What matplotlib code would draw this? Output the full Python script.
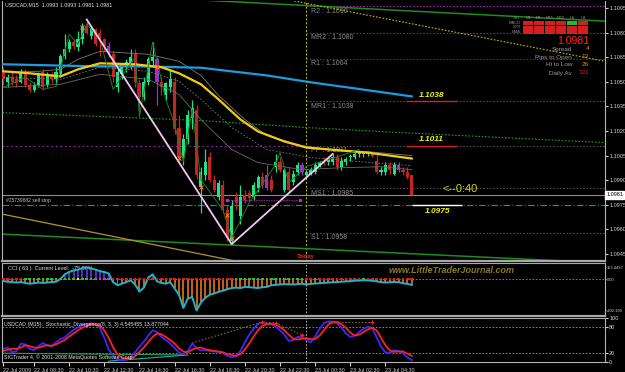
import numpy as np
import matplotlib
matplotlib.use('Agg')
import matplotlib.pyplot as plt
from matplotlib.patches import Rectangle

plt.rcParams['font.family'] = ['Liberation Sans', 'DejaVu Sans']

# USDCAD M15 candles, 22 Jul 06:45 .. 23 Jul 06:00
bar_open = [1.1056, 1.1050, 1.1053, 1.1052, 1.1050, 1.1056, 1.1048, 1.1045, 1.1048, 1.1056,
            1.1048, 1.1055, 1.1052, 1.1055, 1.1066, 1.1070, 1.1074, 1.1071, 1.1076, 1.1084,
            1.1078, 1.1082, 1.1080, 1.1076, 1.1072, 1.1067, 1.1047, 1.1055, 1.1059, 1.1060,
            1.1067, 1.1049, 1.1041, 1.1050, 1.1063, 1.1064, 1.1050, 1.1042, 1.1047, 1.1050,
            1.1022, 1.1004, 1.1015, 1.1028, 1.1033, 1.0986, 1.0993, 1.1004, 1.0990, 1.0980,
            1.0987, 1.0972, 1.0953, 1.0980, 1.0968, 1.0981, 1.0982, 1.0980, 1.0985, 1.0992,
            1.0993, 1.0990, 1.0998, 1.1001, 1.0984, 1.0995, 1.0989, 1.0995, 1.0999, 1.0993,
            1.0994, 1.0995, 1.0999, 1.1002, 1.1001, 1.1001, 1.1004, 1.0998, 1.1001, 1.1004,
            1.1004, 1.1006, 1.1006, 1.1006, 1.1006, 1.1002, 1.0995, 1.0995, 1.0999, 1.0994,
            1.0999, 1.0996, 1.0995, 1.0993]
bar_high = [1.1059, 1.1055, 1.1056, 1.1054, 1.1058, 1.1058, 1.1050, 1.1050, 1.1056, 1.1058,
            1.1056, 1.1056, 1.1059, 1.1067, 1.1079, 1.1076, 1.1076, 1.1081, 1.1086, 1.1088,
            1.1084, 1.1083, 1.1082, 1.1077, 1.1074, 1.1069, 1.1058, 1.1061, 1.1064, 1.1070,
            1.1070, 1.1052, 1.1053, 1.1065, 1.1074, 1.1065, 1.1053, 1.1050, 1.1058, 1.1053,
            1.1030, 1.1018, 1.1033, 1.1039, 1.1036, 1.0998, 1.1009, 1.1007, 1.0993, 1.0990,
            1.0990, 1.0975, 1.0978, 1.0983, 1.0987, 1.0984, 1.0984, 1.0989, 1.0993, 1.0995,
            1.0999, 1.0993, 1.1006, 1.1004, 1.0998, 1.0998, 1.0996, 1.1001, 1.1001, 1.0996,
            1.0998, 1.1001, 1.1002, 1.1004, 1.1004, 1.1006, 1.1006, 1.1004, 1.1004, 1.1006,
            1.1007, 1.1007, 1.1007, 1.1007, 1.1007, 1.1006, 1.0998, 1.1001, 1.1001, 1.1001,
            1.1001, 1.0998, 1.0998, 1.0993]
bar_low = [1.1048, 1.1047, 1.1048, 1.1047, 1.1049, 1.1047, 1.1044, 1.1044, 1.1047, 1.1045,
           1.1047, 1.1049, 1.1048, 1.1053, 1.1064, 1.1068, 1.1070, 1.1069, 1.1073, 1.1079,
           1.1076, 1.1072, 1.1066, 1.1069, 1.1065, 1.1050, 1.1044, 1.1052, 1.1056, 1.1058,
           1.1047, 1.1029, 1.1039, 1.1048, 1.1060, 1.1036, 1.1042, 1.1039, 1.1044, 1.1018,
           1.1001, 1.0999, 1.1012, 1.1021, 1.0991, 1.0970, 1.0990, 1.0989, 1.0983, 1.0978,
           1.0970, 1.0953, 1.0951, 1.0972, 1.0963, 1.0976, 1.0977, 1.0978, 1.0983, 1.0985,
           1.0984, 1.0983, 1.0995, 1.0995, 1.0983, 1.0983, 1.0987, 1.0993, 1.0993, 1.0992,
           1.0993, 1.0994, 1.0998, 1.0999, 1.0999, 1.0999, 1.0996, 1.0996, 1.0999, 1.1002,
           1.1003, 1.1004, 1.1004, 1.1005, 1.1004, 1.0994, 1.0993, 1.0993, 1.0994, 1.0993,
           1.0995, 1.0993, 1.0991, 1.0981]
bar_close = [1.1052, 1.1053, 1.1050, 1.1049, 1.1056, 1.1048, 1.1045, 1.1048, 1.1054, 1.1047,
             1.1055, 1.1052, 1.1056, 1.1066, 1.1070, 1.1074, 1.1072, 1.1076, 1.1084, 1.1080,
             1.1083, 1.1073, 1.1076, 1.1072, 1.1068, 1.1053, 1.1056, 1.1060, 1.1062, 1.1065,
             1.1050, 1.1041, 1.1050, 1.1064, 1.1065, 1.1050, 1.1047, 1.1049, 1.1052, 1.1021,
             1.1004, 1.1015, 1.1030, 1.1034, 1.0993, 1.0995, 1.1001, 1.0990, 1.0984, 1.0988,
             1.0972, 1.0955, 1.0974, 1.0976, 1.0980, 1.0978, 1.0979, 1.0987, 1.0992, 1.0987,
             1.0985, 1.0984, 1.1001, 1.0996, 1.0996, 1.0984, 1.0994, 1.0999, 1.0995, 1.0995,
             1.0996, 1.0999, 1.1001, 1.1001, 1.1003, 1.1004, 1.0998, 1.1002, 1.1003, 1.1005,
             1.1006, 1.1006, 1.1006, 1.1006, 1.1005, 1.0995, 1.0996, 1.0999, 1.0996, 1.0999,
             1.0996, 1.0995, 1.0992, 1.0981]
purple_bars = [24, 35, 60, 68, 90]

# moving averages read at a few bars
ma_blue_bars = [0, 10, 20, 30, 40, 45, 50, 60, 70, 80, 93]
ma_blue = [1.10607, 1.10601, 1.10595, 1.10595, 1.10589, 1.10586, 1.10570, 1.10539, 1.10497, 1.10460, 1.10411]
ma_yellow_bars = [0, 6, 13, 17, 22, 30, 36, 40, 45, 49, 54, 58, 64, 69, 77, 83, 93]
ma_yellow = [1.10564, 1.10552, 1.10533, 1.10576, 1.10613, 1.10607, 1.10589, 1.10552, 1.10485,
             1.10393, 1.10270, 1.10197, 1.10136, 1.10099, 1.10081, 1.10068, 1.10032]
env_up_bars = [0, 8, 13, 17, 22, 33, 40, 45, 49, 55, 60, 68, 74, 83, 93]
env_up = [1.10564, 1.10564, 1.10576, 1.10637, 1.10686, 1.10668, 1.10625, 1.10539, 1.10417,
          1.10270, 1.10172, 1.10111, 1.10087, 1.10074, 1.10050]
env_mid_bars = [0, 13, 22, 33, 40, 45, 52, 60, 70, 81, 93]
env_mid = [1.10527, 1.10515, 1.10589, 1.10564, 1.10503, 1.10393, 1.10221, 1.10087, 1.10038, 1.10013, 1.09989]
env_low_bars = [0, 13, 22, 33, 40, 45, 52, 58, 68, 77, 86, 93]
env_low = [1.10466, 1.10485, 1.10546, 1.10515, 1.10423, 1.10270, 1.10087, 1.10007, 1.09964,
           1.09976, 1.09982, 1.09964]
swing_bars = [0, 5, 9, 12, 15, 17, 19, 22, 25, 30, 31, 34, 37, 39, 41, 43, 45, 50, 52, 56, 62, 63, 65, 69, 79, 81]
swing = [1.10466, 1.10527, 1.10454, 1.10472, 1.10791, 1.10730, 1.10852, 1.10760, 1.10454, 1.10650,
         1.10289, 1.10742, 1.10393, 1.10240, 1.10013, 1.10331, 1.09903, 1.09719, 1.09548, 1.09762,
         1.09995, 1.10069, 1.09885, 1.09983, 1.10069, 1.10087]
zig_bars = [19, 52, 75]
zig = [1.1088, 1.0951, 1.1006]
fractal_bars = [18, 35, 40, 45, 51, 52]
fractal = [1.10833, 1.10589, 1.10038, 1.09860, 1.09689, 1.09548]

# trend lines
chan_bars = [-1, 45, 69, 90, 137]
chan = [1.10313, 1.10264, 1.10221, 1.10191, 1.10129]
top_green_bars = [30, 137]
top_green = [1.11020, 1.10870]
top_yellow_bars = [64, 137]
top_yellow = [1.11005, 1.10625]
low_yellow_bars = [-1, 60]
low_yellow = [1.09697, 1.09368]
low_green_bars = [-1, 137]
low_green = [1.09572, 1.09395]

# daily pivots
pivot_names = ['R2', 'MR2', 'R1', 'MR1', 'PP', 'MS1', 'S1']
pivot_values = [1.1096, 1.1080, 1.1064, 1.1038, 1.1011, 1.0985, 1.0958]
pivot_colors = ['#a020b0', '#4a4a4a', '#7a2a14', '#4a4a4a', '#4a4a4a', '#4a4a4a', '#1e6e1e']
last_price = 1.0981
sell_stop = 1.0975
targets = [1.1038, 1.1011]
target_low = 1.0975
day_start = 69

# CCI(63)
cci = [-25, -35, -40, -45, -40, -50, -60, -55, -45, -50, -45, -40, -35, 0, 60, 90, 110, 120, 140, 150,
       135, 120, 100, 90, 70, -40, -80, -60, -40, -15, -70, -160, -110, 20, 60, -30, -50, -60, -40, -120,
       -200, -370, -250, -230, -402, -300, -240, -200, -185, -165, -150, -130, -115, -110, -115, -100, -105,
       -110, -115, -105, -100, -80, -75, -70, -65, -68, -70, -65, -60, -70, -62, -58, -55, -50, -45, -42,
       -38, -35, -30, -28, -22, -20, -15, -18, -22, -30, -40, -45, -42, -38, -40, -55, -62, -75.86]
cci_marks = 'rrrrrggggggggggggyggg' + 'mmmmrrrrrrrrrrrrrrrrrrrrrrrrrrrr' + 'ggggggggggggggggrrgrrrrrrrrrrgrrrrrrrrrrr'

# Stochastic(8,3,3)
stoch_k = [30, 33, 22, 25, 42, 40, 30, 27, 36, 43, 38, 35, 45, 52, 56, 65, 73, 79, 84, 86,
           88, 86, 77, 55, 28, 15, 5, 4, 5, 12, 22, 35, 46, 60, 72, 68, 57, 50, 42, 32,
           21, 18, 25, 42, 32, 26, 27, 25, 24, 23, 20, 14, 11, 13, 25, 45, 62, 76, 86, 90,
           87, 86, 80, 72, 62, 48, 50, 57, 57, 50, 45, 58, 75, 88, 92, 92, 88, 78, 65, 57,
           60, 68, 75, 80, 78, 56, 35, 22, 20, 27, 25, 20, 10, 4.545]
stoch_d = [25, 28, 30, 30, 33, 38, 36, 33, 32, 36, 38, 37, 40, 45, 50, 58, 65, 72, 78, 82,
           85, 85, 82, 72, 55, 33, 18, 10, 8, 8, 13, 23, 33, 45, 57, 65, 63, 57, 50, 42,
           31, 24, 22, 28, 32, 33, 29, 27, 25, 24, 22, 18, 16, 14, 18, 28, 42, 58, 72, 82,
           86, 87, 85, 80, 72, 62, 53, 51, 53, 54, 52, 52, 60, 72, 85, 90, 91, 86, 78, 67,
           60, 62, 68, 74, 78, 72, 55, 38, 26, 23, 24, 24, 19, 13.877]
div_green_bars, div_green = [0, 41], [20, 16]
div_cyan_bars, div_cyan = [24, 42], [2, 16]
div_brown_bars, div_brown = [43, 59, 62, 68], [43, 91, 89, 61]
div_brown2_bars, div_brown2 = [74, 84], [91, 91]
stoch_peaks_bars, stoch_peaks = [59, 62, 68, 84], [91, 89, 61, 91]

time_ticks = [0, 7, 15, 23, 31, 39, 47, 55, 63, 71, 79, 87]
time_labels = ['22 Jul 2009', '22 Jul 08:30', '22 Jul 10:30', '22 Jul 12:30', '22 Jul 14:30',
               '22 Jul 16:30', '22 Jul 18:30', '22 Jul 20:30', '22 Jul 22:30', '23 Jul 00:30',
               '23 Jul 02:30', '23 Jul 04:30']

# info box
tf_names = ['M1', 'M5', 'M15', 'M30', 'H1', 'H4']
sig_names = ['MACD', 'STR', 'EMA']
sig_state = [['r', 'r', 'r', 'r', 'g', 'r'],
             ['r', 'r', 'r', 'r', 'r', 'r'],
             ['r', 'r', 'r', 'r', 'r', 'r']]
info_names = ['Spread', 'Pips to Open', 'Hi to Low', 'Daily Av']
info_values = ['4', '13', '26', '131']
info_colors = ['#e08a1e', '#e08a1e', '#e08a1e', '#e02020']

W, H = 625.0, 372.0
fig = plt.figure(figsize=(W / 100, H / 100), dpi=100, facecolor='black')


def px_axes(x0, y0, x1, y1):
    a = fig.add_axes([x0 / W, 1 - y1 / H, (x1 - x0) / W, (y1 - y0) / H])
    a.set_facecolor('black')
    a.set_xlim(-0.3, 137)
    for s in a.spines.values():
        s.set_color('#b4b4b4')
        s.set_linewidth(0.8)
    a.spines['top'].set_visible(False)
    a.tick_params(axis='y', colors='#d0d0d0', labelsize=4, length=2, pad=1,
                  left=False, right=True, labelleft=False, labelright=True)
    a.tick_params(axis='x', bottom=False, labelbottom=False)
    return a


ax = px_axes(2, 1, 605, 261)
ax_cci = px_axes(2, 263, 605, 316)
ax_st = px_axes(2, 318, 605, 362)
for a in (ax, ax_cci):
    a.spines['bottom'].set_linewidth(1.6)
    a.spines['bottom'].set_color('#a8a8a8')
ax_cci.spines['top'].set_visible(True)
ax_cci.spines['top'].set_color('#a8a8a8')
ax_st.spines['top'].set_visible(True)
ax_st.spines['top'].set_color('#a8a8a8')

# ---- main chart
ax.set_ylim(1.09407, 1.10993)
ax.set_yticks(np.arange(1.0945, 1.10951, 0.0015))
ax.yaxis.set_major_formatter(plt.FormatStrFormatter('%.4f'))

x = np.arange(len(bar_close))
o = np.array(bar_open)
c = np.array(bar_close)
hi = np.array(bar_high)
lo = np.array(bar_low)
cols = np.where(c >= o, '#18e68a', '#c82323').astype(object)
cols[purple_bars] = '#9b30d0'
ax.vlines(x, lo, hi, colors=list(cols), lw=0.9, zorder=3)
ax.bar(x, np.maximum(np.abs(c - o), 0.00005), bottom=np.minimum(o, c), width=0.7,
       color=list(cols), lw=0, zorder=3)

ax.plot(low_green_bars, low_green, color='#1e8c1e', lw=1.1, zorder=2)
ax.plot(low_yellow_bars, low_yellow, color='#b49628', lw=0.9, zorder=2)
ax.plot(top_green_bars, top_green, color='#1e8c1e', lw=1.1, zorder=2)
ax.plot(top_yellow_bars, top_yellow, color='#c8b400', lw=0.8, ls=(0, (1.5, 1.5)), zorder=2)
ax.plot(chan_bars, chan, color='#1fa01f', lw=0.8, ls=(0, (1.5, 1.5)), zorder=2)

ax.plot(env_up_bars, env_up, color='#7a7a7a', lw=0.6, zorder=4)
ax.plot(env_mid_bars, env_mid, color='#7a7a7a', lw=0.6, ls=(0, (2, 2)), zorder=4)
ax.plot(env_low_bars, env_low, color='#6a6a6a', lw=0.6, zorder=4)
ax.plot(ma_blue_bars, ma_blue, color='#1c9be0', lw=1.6, zorder=4)
ax.plot(ma_yellow_bars, ma_yellow, color='#f0cc10', lw=1.6, zorder=4)
ax.plot(swing_bars, swing, color='#1f7a1f', lw=0.7, zorder=4)
ax.plot(zig_bars, zig, color='#f0c8f0', lw=1.3, zorder=5)
ax.plot(fractal_bars, fractal, 'x', color='#ff7a20', ms=2.5, mew=0.7, zorder=5)

# pivot levels for the current day
for name, val, col in zip(pivot_names, pivot_values, pivot_colors):
    ax.hlines(val, day_start, 137, colors=col, lw=0.8, linestyles=(0, (1.5, 1.5)), zorder=1)
    ax.text(day_start + 1, val - 0.00008, '%s : %.4f' % (name, val), color='#8a8a8a',
            fontsize=5, va='top', ha='left', zorder=1)
ax.hlines(pivot_values[4], -0.3, day_start, colors='#a020b0', lw=0.8,
          linestyles=(0, (1.5, 2.5)), zorder=1)
ax.plot([51, 67.5], [1.0978, 1.0978], color='#e020d0', lw=0.6, ls=(0, (1, 1)),
        marker='x', ms=1.8, markevery=1, zorder=5)
ax.axhline(last_price, color='#8c8c8c', lw=0.8, zorder=1)
ax.axhline(sell_stop, color='#2e9a2e', lw=0.8, ls=(0, (6, 2, 1, 2)), zorder=1)
ax.text(0.5, sell_stop + 0.00012, '#25739882 sell stop', color='#bcbcbc', fontsize=3.6,
        va='bottom', ha='left')
ax.axvline(day_start, color='#c8c800', lw=0.7, ls=(0, (2, 2)), zorder=1)
ax.text(day_start, 1.09417, 'Today', color='#ff2020', fontsize=4.5, fontweight='bold',
        ha='center', va='bottom')

for t in targets:
    ax.hlines(t, 91.7, 103.4, colors='#d02020', lw=1.0, zorder=5)
    ax.annotate('%.4f' % t, (97.5, t), xytext=(0, 2), textcoords='offset points',
                color='#f0f000', fontsize=6, fontweight='bold', style='italic',
                ha='center', va='bottom')
ax.hlines(target_low, 93, 104.5, colors='#ffffff', lw=1.0, zorder=5)
ax.annotate('%.4f' % target_low, (98.8, target_low), xytext=(0, -2), textcoords='offset points',
            color='#f0f000', fontsize=6, fontweight='bold', style='italic', ha='center', va='top')
ax.annotate('<--0:40', (100, last_price), xytext=(0, 1), textcoords='offset points',
            color='#d8d800', fontsize=8, ha='left', va='bottom')

ax.text(1.002, last_price, '%.4f' % last_price, transform=ax.get_yaxis_transform(),
        color='black', fontsize=4, va='center', ha='left',
        bbox=dict(boxstyle='square,pad=0.2', fc='white', ec='white'))
fig.text(5 / W, 1 - 5 / H, 'USDCAD,M15  1.0993 1.0993 1.0981 1.0981', color='#e0e0e0',
         fontsize=3.8, va='center', ha='left')

# info box top right
for j, tf in enumerate(tf_names):
    fig.text((528 + 11 * j) / W, 1 - 18 / H, tf, color='#8a8a8a', fontsize=3,
             ha='center', va='center')
    for i, sig in enumerate(sig_names):
        fc = '#20c020' if sig_state[i][j] == 'g' else '#d02020'
        fig.add_artist(Rectangle(((523 + 11 * j) / W, 1 - (25 + 4.5 * i) / H), 10 / W, 3.6 / H,
                                 transform=fig.transFigure, fc=fc, ec='none'))
for i, sig in enumerate(sig_names):
    fig.text(521 / W, 1 - (23 + 4.5 * i) / H, sig, color='#8a8a8a', fontsize=3,
             ha='right', va='center')
fig.text(520 / W, 1 - 18 / H, 'SIG', color='#8a8a8a', fontsize=3, ha='right', va='center')
fig.text(589 / W, 1 - 41 / H, '%.4f' % last_price, color='#ff2020', fontsize=7.5,
         ha='right', va='center')
for i, (nm, val, vc) in enumerate(zip(info_names, info_values, info_colors)):
    fig.text(572 / W, 1 - (49 + 8 * i) / H, nm, color='#9a9a9a', fontsize=4.6, ha='right', va='center')
    fig.text(589 / W, 1 - (49 + 8 * i) / H, val, color=vc, fontsize=4.6, ha='right', va='center')

# ---- CCI panel
ax_cci.set_ylim(-473, 205)
ax_cci.set_yticks([153.4437, 0, -402.19])
ax_cci.set_yticklabels(['153.4437', '0.00', '-402.190'])
ax_cci.tick_params(axis='y', labelsize=2.9, length=1, pad=0.5)
cci_a = np.array(cci)
ax_cci.bar(x, cci_a, width=0.45, color=np.where(cci_a >= 0, '#4b2fbf', '#c0601a'), lw=0, zorder=2)
ax_cci.plot(x, cci_a, color='#20b4c8', lw=1.4, zorder=3)
ax_cci.axhline(0, color='#8c8c8c', lw=0.6, ls=(0, (2, 2)), zorder=1)
mark_cols = {'r': '#e02020', 'g': '#30c030', 'y': '#f0f000', 'm': '#c040c0'}
ax_cci.scatter(x, np.zeros(len(x)), marker='s', s=3.5, c=[mark_cols[m] for m in cci_marks],
               lw=0, zorder=4)
ax_cci.axvline(day_start, color='#d0d0d0', lw=0.6, ls=(0, (2, 2)))
ax_cci.text(0.01, 0.94, 'CCI ( 63 )  Current Level:  -75.86%', transform=ax_cci.transAxes,
            color='#e0e0e0', fontsize=4, va='top', ha='left', zorder=1)
ax_cci.text(0.745, 0.86, 'www.LittleTraderJournal.com', transform=ax_cci.transAxes,
            color='#8c7a28', fontsize=6.5, style='italic', fontweight='bold', ha='center', va='center')

# ---- stochastic panel
ax_st.set_ylim(0, 100)
ax_st.set_yticks([100, 80, 20, 0])
ax_st.set_yticklabels(['100', '80', '20', '0'])
ax_st.axhline(80, color='#9a9a9a', lw=0.6, ls=(0, (2, 2)))
ax_st.axhline(20, color='#9a9a9a', lw=0.6, ls=(0, (2, 2)))
ax_st.axvline(day_start, color='#d0d0d0', lw=0.6, ls=(0, (2, 2)))
ax_st.plot(div_green_bars, div_green, color='#2e9a57', lw=0.8)
ax_st.plot(div_cyan_bars, div_cyan, color='#20b2aa', lw=0.8)
ax_st.plot(div_brown_bars, div_brown, color='#8b5a2b', lw=0.8, ls=(0, (1.5, 1.5)))
ax_st.plot(div_brown2_bars, div_brown2, color='#8b5a2b', lw=0.8, ls=(0, (1.5, 1.5)))
ax_st.plot(x, stoch_k, color='#3c28ff', lw=1.3)
ax_st.plot(x, stoch_d, color='#ff2020', lw=1.3)
ax_st.plot(stoch_peaks_bars, stoch_peaks, '+', color='#ff2020', ms=3, mew=0.8)
ax_st.text(0.003, 0.9, 'USDCAD (M15):  Stochastic_Divergence(8, 3, 3) 4.545455 13.877044',
           transform=ax_st.transAxes, color='#e0e0e0', fontsize=3.8, va='top', ha='left')
ax_st.text(0.003, 0.05, 'SIGTrader 4, \u00a9 2001-2008 MetaQuotes Software Corp.',
           transform=ax_st.transAxes, color='#e0e0e0', fontsize=3.8, va='bottom', ha='left')

ax_st.set_xticks(time_ticks)
ax_st.set_xticklabels(time_labels, ha='left')
ax_st.tick_params(axis='x', bottom=True, labelbottom=True, colors='#d0d0d0', labelsize=3.9,
                  length=3, pad=1, direction='out')

fig.savefig('out.png', dpi=100, facecolor='black')
